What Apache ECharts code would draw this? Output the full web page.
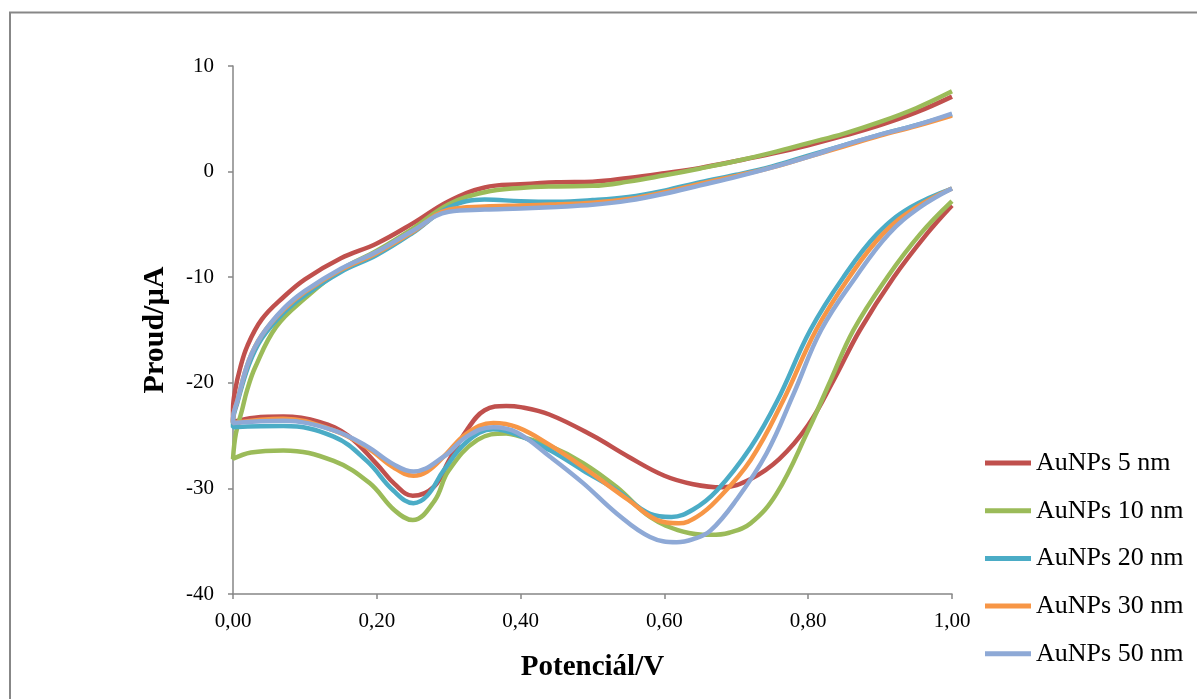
<!DOCTYPE html>
<html>
<head>
<meta charset="utf-8">
<script src="https://cdn.jsdelivr.net/npm/echarts@6/dist/echarts.min.js"></script>
<style>
  html, body { margin: 0; padding: 0; background: #fff; }
  #chart { width: 1197px; height: 699px; }
</style>
</head>
<body>
<div id="chart"></div>
<script>
// each loop: back scan (1.00 -> 0.00) then forward scan (0.00 -> 1.00)
const names = ['AuNPs 5 nm', 'AuNPs 10 nm', 'AuNPs 20 nm', 'AuNPs 30 nm', 'AuNPs 50 nm']
const colors = ['#C0504D', '#9BBB59', '#4BACC6', '#F79646', '#8EA9D6']
const xTicks = [0, 0.2, 0.4, 0.6, 0.8, 1.0]
const yTicks = [-40, -30, -20, -10, 0, 10]

const au5 = [
  [1.00, -3.2], [0.965, -5.9], [0.919, -10.0], [0.872, -15.0], [0.835, -19.8], [0.80, -24.0],
  [0.76, -27.2], [0.72, -29.1], [0.68, -29.9], [0.64, -29.6], [0.60, -28.8], [0.55, -27.0],
  [0.50, -25.0], [0.44, -23.0], [0.40, -22.3], [0.38, -22.2], [0.35, -22.6], [0.325, -24.5],
  [0.30, -27.4], [0.28, -29.8], [0.25, -30.7], [0.225, -29.6], [0.20, -27.7], [0.16, -25.0],
  [0.12, -23.7], [0.07, -23.2], [0.03, -23.3], [0.00, -23.7],
  [0.00, -22.5], [0.003, -20.7], [0.01, -18.6], [0.02, -16.5], [0.04, -14.0], [0.07, -11.9],
  [0.10, -10.2], [0.15, -8.2], [0.20, -6.8], [0.25, -4.9], [0.30, -2.8], [0.35, -1.5],
  [0.40, -1.2], [0.45, -1.0], [0.50, -0.95], [0.55, -0.6], [0.60, -0.15], [0.65, 0.35],
  [0.70, 1.0], [0.75, 1.7], [0.80, 2.5], [0.85, 3.4], [0.90, 4.4], [0.95, 5.6], [1.00, 7.1]
]
const au10 = [
  [1.00, -2.8], [0.956, -5.9], [0.91, -10.0], [0.863, -15.0], [0.831, -19.8], [0.80, -24.5],
  [0.756, -30.5], [0.72, -33.3], [0.69, -34.2], [0.664, -34.4], [0.626, -34.1], [0.58, -32.7],
  [0.534, -29.9], [0.487, -27.6], [0.441, -26.0], [0.395, -25.0], [0.38, -24.8], [0.34, -25.4],
  [0.30, -28.3], [0.28, -31.2], [0.25, -33.0], [0.225, -32.1], [0.19, -29.5], [0.14, -27.4],
  [0.07, -26.4], [0.025, -26.6], [0.00, -27.2],
  [0.004, -24.8], [0.0125, -22.6], [0.02, -20.6], [0.031, -18.5], [0.06, -14.7], [0.10, -12.0],
  [0.15, -9.3], [0.20, -7.5], [0.25, -5.4], [0.30, -3.1], [0.35, -1.95], [0.40, -1.55],
  [0.45, -1.4], [0.50, -1.35], [0.55, -0.95], [0.60, -0.35], [0.65, 0.3], [0.70, 1.0],
  [0.75, 1.8], [0.80, 2.7], [0.85, 3.6], [0.90, 4.7], [0.95, 6.0], [1.00, 7.6]
]
const au20 = [
  [1.00, -1.6], [0.942, -3.4], [0.896, -5.9], [0.849, -10.0], [0.803, -15.0], [0.757, -21.7],
  [0.72, -26.1], [0.673, -30.2], [0.64, -32.0], [0.61, -32.7], [0.58, -32.4], [0.534, -30.2],
  [0.487, -28.3], [0.441, -26.4], [0.395, -24.9], [0.362, -24.4], [0.325, -25.6], [0.293, -28.3],
  [0.27, -30.7], [0.251, -31.4], [0.223, -30.2], [0.186, -27.4], [0.14, -25.1], [0.07, -24.1],
  [0.00, -24.2],
  [0.00, -23.6], [0.006, -21.9], [0.022, -18.3], [0.04, -15.8], [0.07, -13.4], [0.10, -11.7],
  [0.15, -9.5], [0.20, -7.9], [0.25, -5.8], [0.30, -3.4], [0.35, -2.65], [0.40, -2.8],
  [0.45, -2.85], [0.50, -2.7], [0.55, -2.4], [0.60, -1.8], [0.65, -1.0], [0.70, -0.3],
  [0.75, 0.5], [0.80, 1.5], [0.85, 2.5], [0.90, 3.5], [0.95, 4.4], [1.00, 5.4]
]
const au30 = [
  [1.00, -1.6], [0.95, -3.4], [0.904, -5.9], [0.857, -10.0], [0.811, -15.0], [0.765, -21.7],
  [0.72, -27.3], [0.673, -31.1], [0.645, -32.7], [0.62, -33.3], [0.59, -33.0], [0.55, -31.1],
  [0.487, -28.0], [0.441, -25.9], [0.395, -24.2], [0.362, -23.8], [0.325, -24.8], [0.293, -27.0],
  [0.27, -28.4], [0.251, -28.8], [0.223, -28.0], [0.186, -26.1], [0.14, -24.5], [0.07, -23.4],
  [0.00, -23.8],
  [0.00, -23.4], [0.006, -21.7], [0.022, -17.9], [0.04, -15.5], [0.07, -13.1], [0.10, -11.4],
  [0.15, -9.3], [0.20, -7.7], [0.25, -5.7], [0.30, -3.6], [0.35, -3.3], [0.40, -3.2],
  [0.45, -3.1], [0.50, -2.95], [0.55, -2.6], [0.60, -1.95], [0.65, -1.15], [0.70, -0.4],
  [0.75, 0.4], [0.80, 1.4], [0.85, 2.4], [0.90, 3.4], [0.95, 4.3], [1.00, 5.3]
]
const au50 = [
  [1.00, -1.6], [0.955, -3.4], [0.912, -5.9], [0.866, -10.0], [0.818, -15.0], [0.78, -21.0],
  [0.742, -26.7], [0.70, -31.1], [0.664, -34.0], [0.64, -34.8], [0.617, -35.1], [0.58, -34.6],
  [0.534, -32.4], [0.487, -29.5], [0.441, -27.0], [0.395, -24.7], [0.362, -24.2], [0.325, -25.1],
  [0.293, -27.0], [0.251, -28.4], [0.223, -27.7], [0.186, -26.0], [0.14, -24.5], [0.07, -23.6],
  [0.00, -23.8],
  [0.00, -23.4], [0.006, -21.7], [0.022, -17.9], [0.04, -15.5], [0.07, -13.0], [0.10, -11.3],
  [0.15, -9.2], [0.20, -7.6], [0.25, -5.6], [0.30, -3.8], [0.35, -3.6], [0.40, -3.5],
  [0.45, -3.35], [0.50, -3.15], [0.55, -2.75], [0.60, -2.1], [0.65, -1.3], [0.70, -0.5],
  [0.75, 0.4], [0.80, 1.4], [0.85, 2.5], [0.90, 3.5], [0.95, 4.4], [1.00, 5.5]
]
const loops = [au5, au10, au20, au30, au50]

const font = 'Liberation Serif, Times New Roman, serif'
const chart = echarts.init(document.getElementById('chart'))

chart.setOption({
  backgroundColor: '#fff',
  animation: false,
  graphic: [{
    type: 'rect',
    shape: { x: 10, y: 12.5, width: 1250, height: 750 },
    style: { fill: 'none', stroke: '#878787', lineWidth: 2 },
    silent: true
  }],
  grid: { left: 233, right: 245, top: 66, bottom: 105 },
  legend: {
    orient: 'vertical',
    left: 985,
    top: 450,
    padding: 0,
    itemWidth: 46,
    itemHeight: 5,
    itemGap: 21.7,
    icon: 'rect',
    textStyle: { fontFamily: font, fontSize: 26, color: '#000' },
    data: names
  },
  xAxis: {
    type: 'value',
    min: 0,
    max: 1,
    interval: 0.2,
    name: 'Potenciál/V',
    nameLocation: 'middle',
    nameGap: 59,
    nameTextStyle: { fontFamily: font, fontSize: 29, fontWeight: 'bold', color: '#000' },
    axisLine: { onZero: false, lineStyle: { color: '#868686', width: 1.5 } },
    axisTick: { show: true, length: 5, lineStyle: { color: '#868686', width: 1.5 } },
    axisLabel: {
      fontFamily: font, fontSize: 21, color: '#000', margin: 17,
      formatter: v => xTicks.includes(+v.toFixed(2)) ? v.toFixed(2).replace('.', ',') : ''
    },
    splitLine: { show: false }
  },
  yAxis: {
    type: 'value',
    min: yTicks[0],
    max: yTicks[yTicks.length - 1],
    interval: 10,
    name: 'Proud/µA',
    nameLocation: 'middle',
    nameGap: 63,
    nameTextStyle: { fontFamily: font, fontSize: 30, fontWeight: 'bold', color: '#000' },
    axisLine: { show: true, onZero: false, lineStyle: { color: '#868686', width: 1.5 } },
    axisTick: { show: true, length: 5, lineStyle: { color: '#868686', width: 1.5 } },
    axisLabel: { fontFamily: font, fontSize: 21, color: '#000', margin: 19 },
    splitLine: { show: false }
  },
  series: loops.map((d, i) => ({
    name: names[i],
    type: 'line',
    data: d,
    smooth: 0.4,
    showSymbol: false,
    symbol: 'none',
    clip: true,
    color: colors[i],
    lineStyle: { width: 4.5, color: colors[i] }
  }))
})
</script>
</body>
</html>
